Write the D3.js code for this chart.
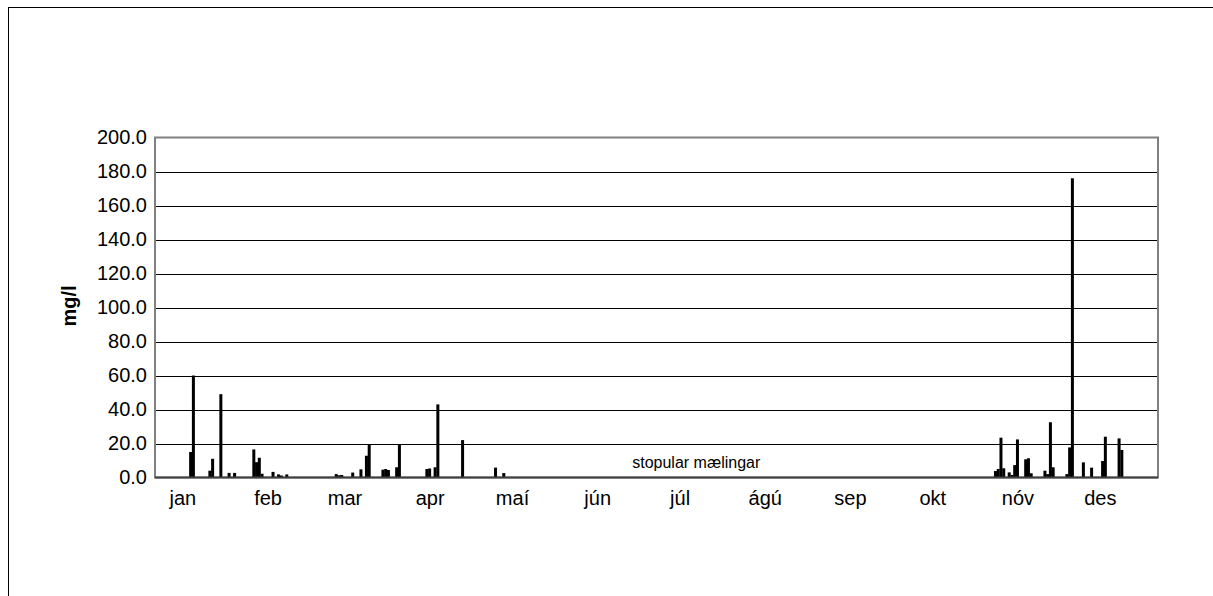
<!DOCTYPE html>
<html>
<head>
<meta charset="utf-8">
<script src="https://cdn.jsdelivr.net/npm/d3@7"></script>
<style>
body { margin: 0; background: #fff; }
text { font-family: "Liberation Sans", Arial, sans-serif; }
</style>
</head>
<body>
<svg></svg>
<script>
const width = 1213
const height = 596

// measurement days (2010) and values in mg/l
const dates = [
	'01-04', '01-05', '01-11', '01-12', '01-15', '01-18', '01-20', '01-27', '01-28', '01-29', '01-30',
	'02-03', '02-05', '02-06', '02-08', '02-26', '02-27', '02-28',
	'03-04', '03-07', '03-09', '03-10', '03-15', '03-16', '03-17', '03-20', '03-21', '03-31',
	'04-01', '04-03', '04-04', '04-13', '04-25', '04-28',
	'10-24', '10-25', '10-26', '10-27', '10-29', '10-30', '10-31',
	'11-01', '11-04', '11-05', '11-06', '11-11', '11-12', '11-13', '11-14', '11-19', '11-20', '11-21', '11-25', '11-28',
	'12-02', '12-03', '12-08', '12-09'
]
const values = [
	15, 60, 4, 11, 49, 2.7, 2.7, 16.5, 9, 11.6, 2.2,
	3.3, 1.8, 1.2, 1.8, 2.0, 1.3, 1.5,
	2.9, 4.8, 12.8, 19.5, 4.6, 5.0, 4.4, 6.0, 19.1, 5.0,
	5.3, 6.0, 43, 22, 5.8, 2.6,
	3.8, 5.0, 23.4, 5.4, 3.0, 1.5, 7.3,
	22.4, 10.7, 11.3, 2.5, 4.0, 2.0, 32.5, 6.0, 2.0, 17.7, 176, 8.9, 5.8,
	9.7, 24.0, 23.0, 16.2
]
const months = ['jan', 'feb', 'mar', 'apr', 'maí', 'jún', 'júl', 'ágú', 'sep', 'okt', 'nóv', 'des']
const yTicks = [0, 20, 40, 60, 80, 100, 120, 140, 160, 180, 200]
const note = 'stopular mælingar'

const year = 2010
const parse = d3.timeParse('%Y-%m-%d')
const data = dates.map((d, i) => ({ date: parse(year + '-' + d), value: values[i] }))

const plotLeft = 155, plotRight = 1158, plotTop = 137.5, plotBottom = 477.5

const x = d3.scaleTime()
	.domain([new Date(year - 1, 11, 22, 12, 36), new Date(year, 11, 22, 16)])
	.range([plotLeft, plotRight])
const dayW = x(new Date(year, 0, 2)) - x(new Date(year, 0, 1))

const y = d3.scaleLinear().domain([0, 200]).range([plotBottom, plotTop])

const svg = d3.select('svg')
	.attr('width', width)
	.attr('height', height)

// outer chart border (runs off the right and bottom edges)
svg.append('rect')
	.attr('x', 8.5).attr('y', 7.5)
	.attr('width', width + 20).attr('height', height + 20)
	.attr('fill', 'none').attr('stroke', '#000').attr('stroke-width', 1)

// gridlines
svg.append('g')
	.selectAll('line')
	.data(yTicks.slice(1, -1))
	.enter()
	.append('line')
	.attr('x1', plotLeft).attr('x2', plotRight)
	.attr('y1', d => Math.round(y(d)) + 0.5).attr('y2', d => Math.round(y(d)) + 0.5)
	.attr('stroke', '#000').attr('stroke-width', 1)

// plot frame
svg.append('rect')
	.attr('x', plotLeft).attr('y', plotTop)
	.attr('width', plotRight - plotLeft).attr('height', plotBottom - plotTop)
	.attr('fill', 'none').attr('stroke', '#808080').attr('stroke-width', 2)

// bars
svg.append('g')
	.selectAll('rect')
	.data(data)
	.enter()
	.append('rect')
	.attr('x', d => x(d.date) + dayW / 2 - 1.5)
	.attr('width', 3)
	.attr('y', d => y(d.value))
	.attr('height', d => plotBottom - y(d.value))
	.attr('fill', '#000')

// bottom axis line
svg.append('line')
	.attr('x1', plotLeft).attr('x2', plotRight)
	.attr('y1', plotBottom).attr('y2', plotBottom)
	.attr('stroke', '#404040').attr('stroke-width', 2)

// y axis labels
const yAxis = d3.axisLeft(y)
	.tickValues(yTicks)
	.tickSize(0)
	.tickPadding(8)
	.tickFormat(d3.format('.1f'))
svg.append('g')
	.attr('transform', 'translate(' + plotLeft + ',0)')
	.call(yAxis)
	.call(g => g.select('.domain').remove())
	.selectAll('text')
	.attr('font-size', 20)
	.attr('font-family', '"Liberation Sans", Arial, sans-serif')
	.attr('fill', '#000')

// x axis month labels
const monthStarts = months.map((m, i) => new Date(year, i, 1, 12))
const xAxis = d3.axisBottom(x)
	.tickValues(monthStarts)
	.tickSize(0)
	.tickPadding(13)
	.tickFormat((d, i) => months[i])
svg.append('g')
	.attr('transform', 'translate(0,' + plotBottom + ')')
	.call(xAxis)
	.call(g => g.select('.domain').remove())
	.selectAll('text')
	.attr('font-size', 20)
	.attr('font-family', '"Liberation Sans", Arial, sans-serif')
	.attr('fill', '#000')

// y axis title
svg.append('text')
	.attr('transform', 'translate(76,306) rotate(-90)')
	.attr('text-anchor', 'middle')
	.attr('font-size', 20)
	.attr('font-weight', 'bold')
	.text('mg/l')

// note
svg.append('text')
	.attr('x', x(new Date(year, 6, 1)) - 46)
	.attr('y', y(5) - 1)
	.attr('font-size', 16)
	.text(note)
</script>
</body>
</html>
